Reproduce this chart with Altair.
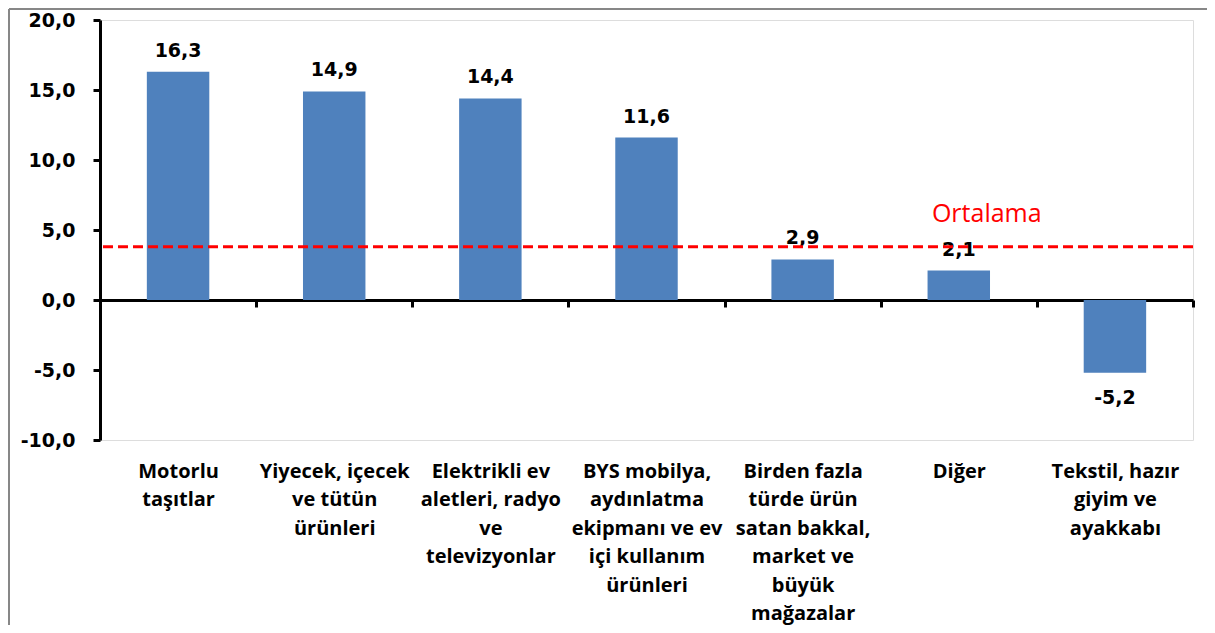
import altair as alt
import pandas as pd

# ---- data ----
categories = [
    "Motorlu\ntaşıtlar",
    "Yiyecek, içecek\nve tütün\nürünleri",
    "Elektrikli ev\naletleri, radyo\nve\ntelevizyonlar",
    "BYS mobilya,\naydınlatma\nekipmanı ve ev\niçi kullanım\nürünleri",
    "Birden fazla\ntürde ürün\nsatan bakkal,\nmarket ve\nbüyük\nmağazalar",
    "Diğer",
    "Tekstil, hazır\ngiyim ve\nayakkabı",
]
values = [16.3, 14.9, 14.4, 11.6, 2.9, 2.1, -5.2]
average_value = 3.8
average_label = "Ortalama"
average_anchor = "Diğer"
y_ticks = [-10, -5, 0, 5, 10, 15, 20]

df = pd.DataFrame({"cat": categories, "val": values})
df["txt"] = [f"{v:.1f}".replace(".", ",") for v in values]
avg_df = pd.DataFrame({"cat": [average_anchor], "avg": [average_value], "txt": [average_label]})
dummy = pd.DataFrame({"k": [0]})

W, H = 1093, 420
BAR_COLOR = "#4F81BD"
NUM_FONT = "DejaVu Sans"
CAT_FONT = "Open Sans"

x_enc = alt.X(
    "cat:N",
    sort=None,
    scale=alt.Scale(domain=categories, paddingInner=0, paddingOuter=0),
    axis=alt.Axis(
        title=None,
        orient="bottom",
        offset=-140,
        domain=True,
        domainColor="black",
        domainWidth=3,
        ticks=True,
        tickBand="extent",
        tickSize=7,
        tickWidth=3,
        tickColor="black",
        labelAngle=0,
        labelAlign="center",
        labelBaseline="alphabetic",
        labelPadding=170,
        labelLineHeight=28.5,
        labelFont=CAT_FONT,
        labelFontSize=20,
        labelFontWeight="bold",
        labelColor="black",
        labelLimit=400,
        labelOverlap=False,
        labelExpr="split(datum.label, '\\n')",
    ),
)

y_scale = alt.Scale(domain=[-10, 20], nice=False, zero=False)
y_axis = alt.Axis(
    title=None,
    values=y_ticks,
    grid=False,
    domain=True,
    domainColor="black",
    domainWidth=3,
    ticks=True,
    tickSize=7,
    tickWidth=3,
    tickColor="black",
    labelPadding=18,
    labelFont=NUM_FONT,
    labelFontSize=19,
    labelFontWeight="bold",
    labelColor="black",
    labelExpr="(datum.value < 0 ? '-' : '') + replace(format(abs(datum.value), '.1f'), '.', ',')",
)

base = alt.Chart(df).encode(x=x_enc, y=alt.Y("val:Q", scale=y_scale, axis=y_axis))

bars = base.mark_bar(color=BAR_COLOR, width=alt.RelativeBandSize(0.4))

txt_style = dict(font=NUM_FONT, fontSize=19, fontWeight="bold", color="black",
                 align="center", baseline="alphabetic")
pos_labels = base.transform_filter("datum.val >= 0").mark_text(dy=-15, **txt_style).encode(text="txt:N")
neg_labels = base.transform_filter("datum.val < 0").mark_text(dy=31, **txt_style).encode(text="txt:N")

avg_rule = alt.Chart(avg_df).mark_rule(color="#FF0000", strokeWidth=3, strokeDash=[10, 5]).encode(
    y=alt.Y("avg:Q", scale=y_scale, axis=y_axis)
)
avg_text = alt.Chart(avg_df).mark_text(
    font=CAT_FONT, fontSize=25, color="#FF0000", align="center", baseline="alphabetic", dx=28, dy=-25
).encode(x=x_enc, y=alt.Y("avg:Q", scale=y_scale, axis=y_axis), text="txt:N")

# decorative outer frame (gray border of the original picture)
frame_left = alt.Chart(dummy).mark_rule(color="#878787", strokeWidth=2).encode(
    x=alt.value(-91), y=alt.value(-11), y2=alt.value(605)
)
frame_top = alt.Chart(dummy).mark_rule(color="#878787", strokeWidth=2).encode(
    x=alt.value(-91), x2=alt.value(1107), y=alt.value(-11)
)

chart = alt.layer(bars, pos_labels, neg_labels, avg_rule, avg_text, frame_left, frame_top).properties(
    width=W,
    height=H,
    autosize=alt.AutoSizeParams(type="none"),
    padding={"left": 92, "top": 12, "right": 14, "bottom": 185},
).configure_view(stroke=None).configure(background="white")

chart.save("out.html", embed_options={"renderer": "svg", "actions": False})
